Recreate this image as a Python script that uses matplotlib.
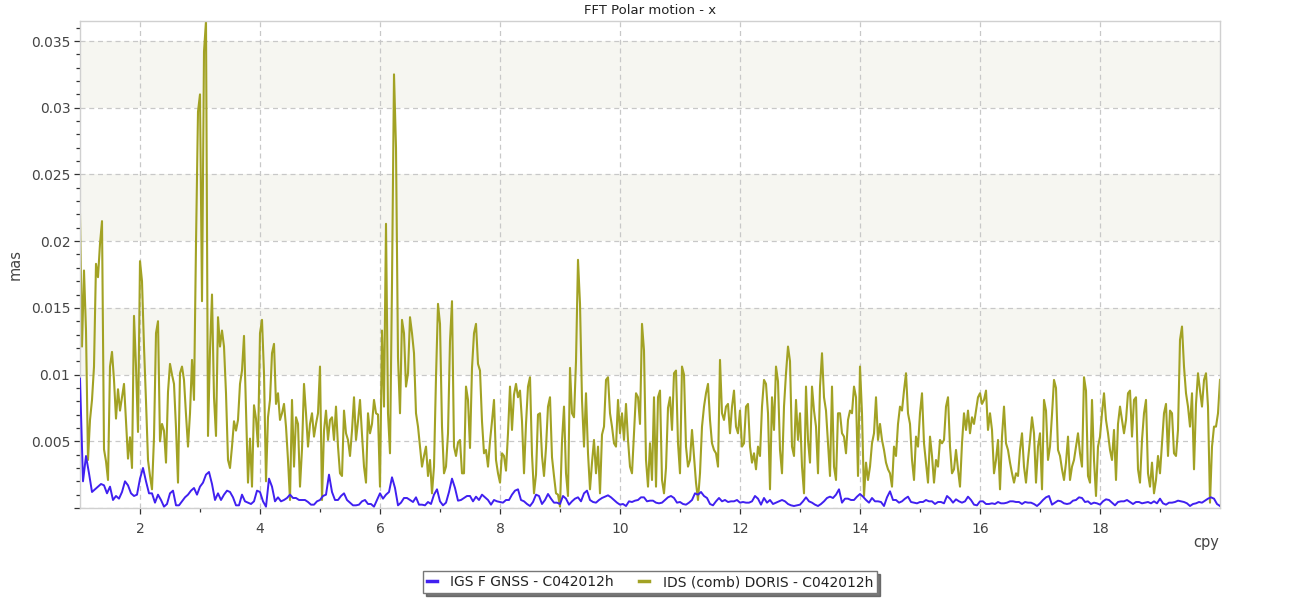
import numpy as np
import matplotlib
matplotlib.use("Agg")
import matplotlib.pyplot as plt
from matplotlib.ticker import MultipleLocator, FixedLocator, FuncFormatter

# ---- data ----
# IDS (comb) DORIS amplitude, units of 0.001 mas, one value every 1/30 cpy from 1 to 20 cpy
ids_doris = [
    # 1.00 - 4.27
    22.0, 12.1, 17.8, 13.3, 3.6, 6.6, 8.1, 10.6, 18.3, 17.3,
    19.8, 21.5, 4.4, 3.5, 2.1, 10.6, 11.7, 9.6, 6.7, 8.9,
    7.3, 8.3, 9.3, 6.5, 3.7, 5.3, 3.0, 14.4, 10.6, 5.7,
    18.5, 17.0, 12.1, 8.0, 3.6, 2.4, 1.4, 5.3, 13.1, 14.0,
    5.0, 6.3, 5.8, 3.4, 8.7, 10.8, 10.0, 9.3, 6.0, 1.9,
    10.1, 10.6, 9.6, 7.0, 4.6, 7.1, 11.1, 8.1, 19.8, 29.7,
    31.0, 15.5, 34.2, 36.5, 5.4, 11.8, 16.0, 8.3, 5.4, 14.3,
    12.1, 13.3, 12.1, 8.6, 3.6, 3.0, 4.6, 6.5, 5.8, 6.6,
    9.3, 10.3, 12.9, 7.5, 1.9, 5.2, 1.6, 7.7, 6.7, 4.6,
    13.1, 14.1, 10.1, 2.0, 6.8, 8.1, 11.6, 12.3, 7.8,
    # 4.30 - 7.47
    8.6, 6.6, 7.1, 7.8, 6.1, 3.6, 0.6, 8.1, 3.1, 6.8,
    6.3, 1.6, 4.4, 9.3, 7.1, 4.6, 6.3, 7.1, 5.35, 6.3,
    7.1, 10.6, 0.6, 5.8, 7.3, 5.1, 6.6, 6.8, 5.1, 7.6,
    4.6, 2.6, 2.4, 7.3, 5.6, 5.1, 3.9, 5.8, 8.3, 5.1,
    6.5, 8.1, 5.5, 3.1, 1.9, 7.1, 5.6, 6.3, 8.1, 7.1,
    7.0, 1.6, 13.3, 7.6, 21.3, 7.1, 4.1, 16.8, 32.5, 27.0,
    11.3, 7.1, 14.1, 13.1, 9.1, 10.1, 14.3, 13.1, 11.6, 7.1,
    6.1, 4.6, 3.1, 3.9, 4.6, 2.4, 3.6, 1.1, 3.1, 9.8,
    15.3, 13.8, 6.1, 2.6, 3.1, 5.6, 12.5, 15.5, 4.6, 3.9,
    4.9, 5.1, 2.6, 2.6, 9.1, 8.1,
    # 7.50 - 10.63
    4.5, 10.5, 13.1, 13.8, 10.8, 10.3, 6.5, 4.1, 4.35, 3.1,
    5.0, 6.5, 8.1, 3.6, 2.6, 1.9, 4.1, 3.9, 2.8, 5.6,
    9.1, 5.85, 8.5, 9.3, 8.3, 8.8, 6.5, 2.6, 6.3, 9.1,
    9.8, 4.0, 1.1, 2.5, 7.0, 7.1, 3.9, 2.4, 4.5, 7.6,
    8.3, 3.8, 2.4, 1.1, 1.0, 0.1, 5.0, 7.6, 2.6, 0.9,
    10.5, 7.1, 6.8, 11.0, 18.6, 15.3, 8.1, 4.6, 8.6, 4.1,
    1.4, 3.4, 5.1, 2.6, 4.6, 1.1, 5.5, 6.1, 9.6, 9.8,
    7.1, 6.1, 4.85, 4.6, 8.1, 5.6, 7.1, 5.1, 7.8, 5.1,
    3.1, 2.6, 5.6, 8.6, 8.3, 6.3, 13.8, 11.8, 3.6, 1.6,
    4.85, 2.1, 8.3, 1.6, 8.3,
    # 10.67 - 13.80
    8.8, 2.1, 1.1, 3.0, 7.5, 8.3, 5.85, 10.1, 10.3, 4.85,
    2.6, 10.6, 10.0, 4.6, 3.1, 3.6, 5.85, 3.9, 1.9, 0.6,
    2.6, 6.1, 7.6, 8.6, 9.3, 6.6, 4.85, 4.35, 4.1, 3.1,
    11.1, 7.1, 6.6, 7.6, 7.8, 5.6, 7.6, 8.8, 6.1, 5.6,
    7.3, 4.6, 4.85, 7.6, 7.8, 4.6, 3.4, 4.1, 2.9, 4.6,
    3.9, 7.6, 9.6, 9.3, 7.1, 1.4, 8.3, 5.85, 10.6, 9.5,
    4.35, 2.6, 7.6, 10.1, 12.1, 11.0, 4.6, 3.9, 8.1, 5.1,
    7.1, 3.1, 1.1, 9.1, 5.1, 3.4, 9.1, 7.3, 6.1, 2.6,
    9.1, 11.6, 8.3, 7.3, 4.85, 2.4, 9.1, 3.1, 2.1, 7.1,
    7.1, 5.6, 5.35, 4.1, 6.6,
    # 13.83 - 16.97
    7.3, 7.1, 9.1, 8.3, 2.4, 10.6, 7.1, 0.9, 3.4, 2.1,
    3.1, 4.85, 5.6, 8.3, 5.1, 6.3, 5.1, 4.35, 3.4, 2.9,
    2.6, 1.6, 4.6, 3.9, 6.3, 7.6, 7.3, 8.8, 10.1, 7.1,
    6.3, 3.6, 2.1, 5.35, 4.6, 7.1, 8.6, 4.85, 3.4, 1.9,
    5.35, 3.9, 1.9, 3.6, 3.1, 5.1, 4.85, 5.1, 7.6, 8.3,
    4.6, 2.6, 2.9, 4.35, 2.9, 1.6, 4.85, 7.1, 5.85, 7.3,
    5.6, 6.8, 6.3, 7.3, 8.3, 8.6, 7.8, 8.1, 8.8, 5.85,
    7.1, 5.85, 2.6, 3.6, 5.1, 1.4, 5.35, 7.6, 4.85, 4.35,
    3.4, 2.6, 1.9, 2.6, 2.4, 4.35, 5.6, 3.1, 1.9, 3.6,
    5.1, 6.8, 5.6, 1.9, 4.6,
    # 17.00 - 20.00
    5.6, 1.4, 8.1, 7.3, 3.6, 4.6, 7.0, 9.6, 9.0, 4.35,
    3.9, 2.9, 2.1, 3.4, 5.35, 2.1, 3.1, 3.6, 4.6, 5.6,
    4.1, 3.1, 9.8, 8.8, 2.4, 1.9, 8.1, 3.6, 0.9, 4.6,
    5.35, 7.1, 8.6, 6.6, 5.6, 4.35, 3.6, 5.85, 2.1, 6.3,
    7.6, 6.6, 5.6, 6.6, 8.6, 8.8, 5.35, 8.1, 8.3, 2.9,
    1.9, 5.1, 7.1, 8.1, 2.6, 1.6, 3.4, 1.1, 2.1, 3.9,
    2.6, 4.85, 7.1, 7.8, 3.9, 7.3, 7.1, 4.1, 3.9, 5.85,
    12.6, 13.6, 10.6, 8.6, 7.6, 6.1, 8.6, 2.9, 7.8, 10.1,
    8.8, 7.6, 9.6, 10.1, 7.6, 0.4, 4.6, 6.1, 6.1, 7.1,
    9.6,
]

# IGS F GNSS amplitude, units of 0.001 mas, one value every 0.05 cpy from 1 to 20 cpy
igs_gnss = [
    9.7, 2.0, 3.9, 2.6, 1.2, 1.4, 1.6, 1.8, 1.7, 1.1,
    1.6, 0.6, 0.9, 0.7, 1.2, 2.0, 1.7, 1.1, 0.9, 1.0,
    2.2, 3.0, 2.0, 1.1, 1.1, 0.4, 1.0, 0.6, 0.1, 0.3,
    1.1, 1.3, 0.2, 0.2, 0.5, 0.8, 1.0, 1.3, 1.5, 1.0,
    1.6, 1.9, 2.5, 2.7, 1.8, 0.6, 1.1, 0.6, 1.0, 1.3,
    1.2, 0.8, 0.2, 0.2, 1.0, 0.5, 0.4, 0.3, 0.5, 1.3,
    1.2, 0.5, 0.1, 2.2, 1.6, 0.5,
    0.8, 0.5, 0.6, 0.75, 1.0, 0.75, 0.75, 0.6, 0.6, 0.6,
    0.45, 0.25, 0.25, 0.5, 0.6, 0.9, 1.0, 2.5, 1.2, 0.6,
    0.6, 0.9, 1.1, 0.6, 0.4, 0.2, 0.2, 0.25, 0.5, 0.6,
    0.3, 0.3, 0.1, 0.6, 1.1, 0.7, 1.0, 1.2, 2.3, 1.5,
    0.2, 0.4, 0.75, 0.75, 0.6, 0.45, 0.8, 0.25, 0.25, 0.2,
    0.45, 0.3, 1.0, 1.4, 0.5, 0.2, 0.4, 1.2, 2.2, 1.5,
    0.55, 0.6, 0.75, 0.9,
    0.9, 0.5, 0.85, 0.6, 1.0, 0.8, 0.6, 0.25, 0.6, 0.5,
    0.45, 0.4, 0.6, 0.6, 1.0, 1.3, 1.4, 0.6, 0.5, 0.3,
    0.15, 0.45, 1.0, 0.9, 0.3, 0.6, 1.05, 0.7, 0.4, 0.4,
    0.3, 0.9, 0.7, 0.25, 0.5, 0.7, 0.8, 0.5, 1.1, 1.3,
    0.6, 0.45, 0.4, 0.6, 0.75, 0.85, 0.95, 0.8, 0.6, 0.4,
    0.25, 0.3, 0.15, 0.5, 0.45, 0.55, 0.6, 0.8, 0.8, 0.5,
    0.55, 0.55, 0.4,
    0.35, 0.4, 0.6, 0.8, 0.9, 0.75, 0.4, 0.45, 0.3, 0.25,
    0.4, 0.6, 1.1, 1.0, 1.2, 0.9, 0.75, 0.3, 0.2, 0.5,
    0.75, 0.5, 0.6, 0.45, 0.5, 0.5, 0.6, 0.4, 0.45, 0.4,
    0.4, 0.5, 0.9, 0.7, 0.25, 0.75, 0.4, 0.6, 0.3, 0.4,
    0.5, 0.6, 0.5, 0.3, 0.2, 0.15, 0.2, 0.25, 0.5, 0.8,
    0.5, 0.4, 0.25, 0.15, 0.3, 0.5, 0.75, 0.85, 0.75, 1.0,
    1.4, 0.4, 0.7, 0.7,
    0.6, 0.6, 0.85, 1.05, 0.85, 0.6, 0.4, 0.75, 0.5, 0.5,
    0.45, 0.15, 0.8, 1.25, 0.6, 0.6, 0.4, 0.5, 0.7, 0.85,
    0.45, 0.4, 0.35, 0.45, 0.45, 0.6, 0.5, 0.5, 0.3, 0.45,
    0.45, 0.35, 0.9, 0.7, 0.4, 0.65, 0.5, 0.4, 0.5, 0.85,
    0.6, 0.25, 0.2, 0.5, 0.5, 0.3, 0.3, 0.35, 0.3, 0.45,
    0.35, 0.35, 0.4, 0.5, 0.5, 0.45, 0.45, 0.3, 0.45, 0.4,
    0.4, 0.3, 0.15,
    0.35, 0.6, 0.8, 0.9, 0.25, 0.4, 0.55, 0.5, 0.35, 0.3,
    0.35, 0.55, 0.6, 0.8, 0.75, 0.45, 0.5, 0.3, 0.4, 0.35,
    0.25, 0.5, 0.65, 0.6, 0.4, 0.2, 0.45, 0.5, 0.5, 0.6,
    0.45, 0.3, 0.45, 0.45, 0.35, 0.4, 0.45, 0.35, 0.5, 0.35,
    0.7, 0.35, 0.25, 0.4, 0.4, 0.45, 0.55, 0.5, 0.45, 0.35,
    0.15, 0.3, 0.35, 0.45, 0.4, 0.55, 0.7, 0.8, 0.7, 0.3,
    0.15,
]

series_labels = ["IGS F GNSS - C042012h", "IDS (comb) DORIS - C042012h"]
title_text = "FFT Polar motion - x"
x_label = "cpy"
y_label = "mas"
freq_start = 1.0
ids_step = 1.0 / 30.0
igs_step = 0.05

# ---- build arrays ----
ids = np.array(ids_doris) * 1e-3
igs = np.array(igs_gnss) * 1e-3
f_ids = freq_start + ids_step * np.arange(len(ids))
f_igs = freq_start + igs_step * np.arange(len(igs))

W, H = 1300, 600
fig = plt.figure(figsize=(W / 100, H / 100), dpi=100)
ax = fig.add_axes([80 / W, 1 - 508 / H, 1140 / W, 487 / H])

blue = "#4020f0"
olive = "#a2a224"
ax.plot(f_igs, igs, color=blue, lw=1.4, label=series_labels[0], zorder=3)
ax.plot(f_ids, ids, color=olive, lw=1.5, label=series_labels[1], zorder=2)

# alternating bands
for lo in (0.010, 0.020, 0.030):
    ax.axhspan(lo, lo + 0.005, color="#f6f6f1", zorder=0, lw=0)

ax.set_xlim(1.0, 20.0)
ax.set_ylim(0.0, ids.max())

ax.xaxis.set_major_locator(FixedLocator(np.arange(2, 19, 2)))
ax.xaxis.set_minor_locator(FixedLocator(np.arange(3, 20, 2)))
ax.yaxis.set_major_locator(MultipleLocator(0.005))
ax.yaxis.set_minor_locator(MultipleLocator(0.001))

def yfmt(v, pos):
    if v <= 1e-9:
        return ""
    return ("%.3f" % v).rstrip("0").rstrip(".")

ax.yaxis.set_major_formatter(FuncFormatter(yfmt))
ax.xaxis.set_major_formatter(FuncFormatter(lambda v, p: "%d" % round(v)))

ax.grid(True, which="major", color="#c8c8c8", ls=(0, (4, 3)), lw=0.9, zorder=1)
ax.set_axisbelow(True)

for s in ax.spines.values():
    s.set_color("#d0d0d0")
    s.set_linewidth(1.0)

ax.tick_params(axis="both", which="major", direction="out", length=4, width=0.9,
               color="#333333", labelcolor="#444444", labelsize=10)
ax.tick_params(axis="both", which="minor", direction="out", length=3, width=0.9,
               color="#333333")
ax.tick_params(axis="x", pad=6)
ax.tick_params(axis="y", pad=3)

fig.text(650 / W, 1 - 11 / H, title_text, ha="center", va="center",
         fontsize=9.5, color="#222222")
fig.text(15 / W, 1 - 265 / H, y_label, rotation=90, ha="center", va="center",
         fontsize=10.5, color="#444444")
fig.text(1206 / W, 1 - 542 / H, x_label, ha="center", va="center",
         fontsize=10.5, color="#444444")

leg = fig.legend(loc="center", bbox_to_anchor=(650 / W, 1 - 582 / H), ncol=2,
                 frameon=True, fancybox=False, shadow={"color": "#555555", "alpha": 0.8},
                 edgecolor="#777777", fontsize=10, handlelength=0.7,
                 handletextpad=1.0, columnspacing=1.8, borderpad=0.3,
                 labelcolor="#222222")
leg.get_frame().set_linewidth(1.0)
for h in leg.legend_handles:
    h.set_linewidth(2.5)

fig.savefig("out.png", dpi=100)
